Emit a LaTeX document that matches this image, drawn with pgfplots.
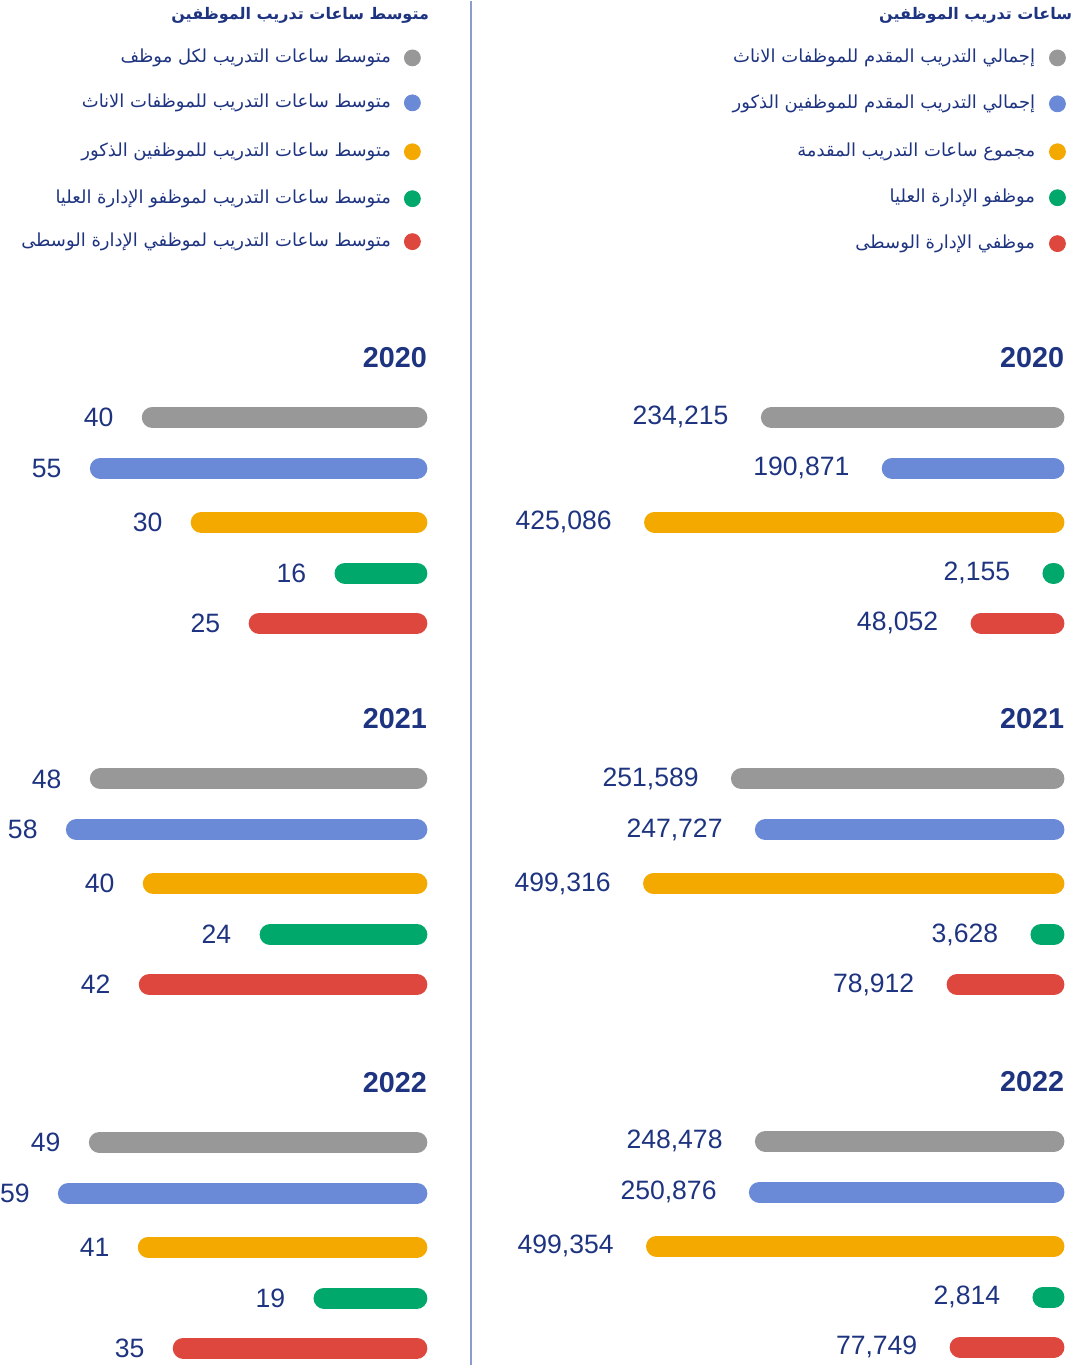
\documentclass[border=0pt]{standalone}
\usepackage{fontspec}
\setmainfont{Liberation Sans}
\newfontfamily\arabicfont[Script=Arabic]{DejaVu Sans}
\usepackage{pgfplots}
\usepackage{pgfplotstable}
\pgfplotsset{compat=1.18}
\TeXXeTstate=1

\definecolor{cGray}{RGB}{152,152,152}
\definecolor{cBlue}{RGB}{106,137,214}
\definecolor{cOrange}{RGB}{244,169,0}
\definecolor{cGreen}{RGB}{0,168,107}
\definecolor{cRed}{RGB}{222,71,61}
\definecolor{navy}{RGB}{30,52,128}
\definecolor{divider}{RGB}{140,156,205}

% ty = year label row; l* = drawn bar length (px), v* = printed value
\pgfplotstableread{
ty    lg  vg      lb  vb      lo  vo      lgr vgr   lr  vr
357   304 234215  183 190871  421 425086  22  2155  94  48052
719   334 251589  310 247727  422 499316  34  3628  118 78912
1082  310 248478  316 250876  419 499354  32  2814  115 77749
}\hoursdata

\pgfplotstableread{
ty    lg  vg  lb  vb  lo  vo  lgr vgr lr  vr
357   286 40  338 55  237 30  93  16  179 25
719   338 48  362 58  285 40  168 24  289 42
1083  339 49  370 59  290 41  114 19  255 35
}\avgdata

\pgfplotsset{
  pill/.style={only marks, mark=none,
    error bars/x dir=plus, error bars/x explicit, error bars/error mark=none,
    error bars/error bar style={line width=10.5pt, line cap=round, draw=#1}},
  lab/.style={nodes near coords,
    nodes near coords={\pgfmathprintnumber[fixed, precision=0, 1000 sep={,}, assume math mode=true]{\pgfplotspointmeta}},
    every node near coord/.append style={anchor=east, xshift=#1, text=navy,
      inner sep=0pt, font=\fontsize{13.3}{16}\selectfont}},
}

\newcommand{\artitle}{\arabicfont\bfseries\fontsize{8}{10}\selectfont}
\newcommand{\arleg}{\arabicfont\fontsize{9}{11}\selectfont}
\newcommand{\yr}{\bfseries\fontsize{14.4}{17}\selectfont}

\begin{document}
\begin{tikzpicture}
\begin{axis}[
    scale only axis, width=537.5pt, height=683pt,
    xmin=0, xmax=1075, ymin=0, ymax=1366, y dir=reverse,
    hide axis, clip=false,
]
\path (axis cs:0,0) rectangle (axis cs:1075,1366);
\draw[divider, line width=1pt] (axis cs:470,0) -- (axis cs:470,1366);

% right panel: total hours, bars end at x=1064
\addplot[pill=cGray, lab=-21.25pt, point meta=explicit] table[x expr={1064-\thisrow{lg}+10.5}, y expr={\thisrow{ty}+60}, x error expr={\thisrow{lg}-21}, meta=vg]{\hoursdata};
\addplot[pill=cBlue, lab=-21.25pt, point meta=explicit] table[x expr={1064-\thisrow{lb}+10.5}, y expr={\thisrow{ty}+111}, x error expr={\thisrow{lb}-21}, meta=vb]{\hoursdata};
\addplot[pill=cOrange, lab=-21.25pt, point meta=explicit] table[x expr={1064-\thisrow{lo}+10.5}, y expr={\thisrow{ty}+165}, x error expr={\thisrow{lo}-21}, meta=vo]{\hoursdata};
\addplot[pill=cGreen, lab=-21.25pt, point meta=explicit] table[x expr={1064-\thisrow{lgr}+10.5}, y expr={\thisrow{ty}+216}, x error expr={\thisrow{lgr}-21}, meta=vgr]{\hoursdata};
\addplot[pill=cRed, lab=-21.25pt, point meta=explicit] table[x expr={1064-\thisrow{lr}+10.5}, y expr={\thisrow{ty}+266}, x error expr={\thisrow{lr}-21}, meta=vr]{\hoursdata};

% left panel: averages, bars end at x=426
\addplot[pill=cGray, lab=-19.25pt, point meta=explicit] table[x expr={426-\thisrow{lg}+10.5}, y expr={\thisrow{ty}+60}, x error expr={\thisrow{lg}-21}, meta=vg]{\avgdata};
\addplot[pill=cBlue, lab=-19.25pt, point meta=explicit] table[x expr={426-\thisrow{lb}+10.5}, y expr={\thisrow{ty}+111}, x error expr={\thisrow{lb}-21}, meta=vb]{\avgdata};
\addplot[pill=cOrange, lab=-19.25pt, point meta=explicit] table[x expr={426-\thisrow{lo}+10.5}, y expr={\thisrow{ty}+165}, x error expr={\thisrow{lo}-21}, meta=vo]{\avgdata};
\addplot[pill=cGreen, lab=-19.25pt, point meta=explicit] table[x expr={426-\thisrow{lgr}+10.5}, y expr={\thisrow{ty}+216}, x error expr={\thisrow{lgr}-21}, meta=vgr]{\avgdata};
\addplot[pill=cRed, lab=-19.25pt, point meta=explicit] table[x expr={426-\thisrow{lr}+10.5}, y expr={\thisrow{ty}+266}, x error expr={\thisrow{lr}-21}, meta=vr]{\avgdata};

% legend dots
\addplot[only marks, mark=*, mark size=4pt, cGray, mark options={draw=none}] coordinates {(1057,57) (411,57)};
\addplot[only marks, mark=*, mark size=4pt, cBlue, mark options={draw=none}] coordinates {(1057,103) (411,102)};
\addplot[only marks, mark=*, mark size=4pt, cOrange, mark options={draw=none}] coordinates {(1057,151) (411,151)};
\addplot[only marks, mark=*, mark size=4pt, cGreen, mark options={draw=none}] coordinates {(1057,197) (411,198)};
\addplot[only marks, mark=*, mark size=4pt, cRed, mark options={draw=none}] coordinates {(1057,243) (411,241)};

% titles and legend text
\begin{scope}[every node/.style={anchor=east, text=navy, inner sep=0pt}]
\node[font=\artitle] at (axis cs:1072,14) {\beginR ساعات تدريب الموظفين\endR};
\node[font=\arleg] at (axis cs:1035,57) {\beginR إجمالي التدريب المقدم للموظفات الاناث\endR};
\node[font=\arleg] at (axis cs:1035,103) {\beginR إجمالي التدريب المقدم للموظفين الذكور\endR};
\node[font=\arleg] at (axis cs:1035,151) {\beginR مجموع ساعات التدريب المقدمة\endR};
\node[font=\arleg] at (axis cs:1035,197) {\beginR موظفو الإدارة العليا\endR};
\node[font=\arleg] at (axis cs:1035,243) {\beginR موظفي الإدارة الوسطى\endR};

\node[font=\artitle] at (axis cs:428,14) {\beginR متوسط ساعات تدريب الموظفين\endR};
\node[font=\arleg] at (axis cs:390,57) {\beginR متوسط ساعات التدريب لكل موظف\endR};
\node[font=\arleg] at (axis cs:390,102) {\beginR متوسط ساعات التدريب للموظفات الاناث\endR};
\node[font=\arleg] at (axis cs:390,151) {\beginR متوسط ساعات التدريب للموظفين الذكور\endR};
\node[font=\arleg] at (axis cs:390,198) {\beginR متوسط ساعات التدريب لموظفو الإدارة العليا\endR};
\node[font=\arleg] at (axis cs:390,241) {\beginR متوسط ساعات التدريب لموظفي الإدارة الوسطى\endR};

\node[font=\yr] at (axis cs:1064,357) {2020};
\node[font=\yr] at (axis cs:1064,719) {2021};
\node[font=\yr] at (axis cs:1064,1082) {2022};
\node[font=\yr] at (axis cs:426,357) {2020};
\node[font=\yr] at (axis cs:426,719) {2021};
\node[font=\yr] at (axis cs:426,1083) {2022};
\end{scope}
\end{axis}
\end{tikzpicture}
\end{document}
